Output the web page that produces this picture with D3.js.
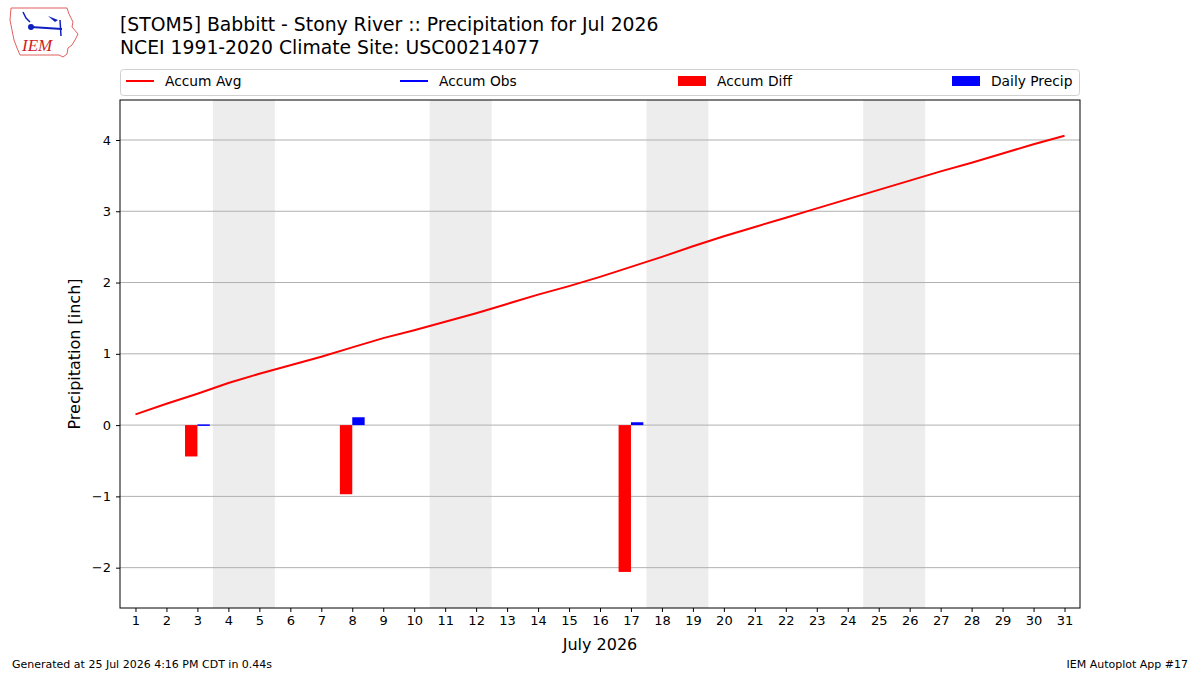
<!DOCTYPE html>
<html>
<head>
<meta charset="utf-8">
<script src="https://cdn.jsdelivr.net/npm/d3@7"></script>
<style>
  body { margin: 0; background: #fff; }
  svg { font-family: "DejaVu Sans", sans-serif; }
</style>
</head>
<body>
<div id="chart"></div>
<script>
// days of the month
var days = d3.range(1, 32);
// climatology accumulated average precip (inch)
var accumAvg = [0.15, 0.30, 0.44, 0.59, 0.72, 0.84, 0.96, 1.09, 1.22, 1.33,
    1.45, 1.57, 1.70, 1.83, 1.95, 2.08, 2.22, 2.36, 2.51, 2.65,
    2.78, 2.91, 3.04, 3.17, 3.30, 3.43, 3.56, 3.68, 3.81, 3.94, 4.06];
// days that have observations
var obsDays = [3, 8, 17];
var accumDiff = [-0.44, -0.97, -2.06];
var dailyPrecip = [0.01, 0.11, 0.04];
// weekend spans (start day, end day)
var weekends = [[4, 5], [11, 12], [18, 19], [25, 26]];
var yTicks = [-2, -1, 0, 1, 2, 3, 4];

var width = 1200, height = 675;
var svg = d3.select("#chart").append("svg")
    .attr("width", width)
    .attr("height", height);

// plot area (note: "top" is reserved on window)
var pLeft = 120, pRight = 1080, pTop = 100, pBottom = 608;

var x = d3.scaleLinear().domain([0.5, 31.5]).range([pLeft, pRight]);
var y = d3.scaleLinear().domain([-2.566, 4.561]).range([pBottom, pTop]);

// weekend shading
svg.selectAll("rect.wk").data(weekends).enter().append("rect")
    .attr("x", function(d) { return x(d[0] - 0.5); })
    .attr("y", pTop)
    .attr("width", function(d) { return x(d[1] + 0.5) - x(d[0] - 0.5); })
    .attr("height", pBottom - pTop)
    .attr("fill", "#ededed");

// grid lines
svg.selectAll("line.grid").data(yTicks).enter().append("line")
    .attr("x1", pLeft).attr("x2", pRight)
    .attr("y1", function(d) { return y(d); })
    .attr("y2", function(d) { return y(d); })
    .attr("stroke", "#b0b0b0")
    .attr("stroke-width", 1);

var barW = x(1.4) - x(1);

// accum diff bars (left of day)
svg.selectAll("rect.diff").data(obsDays).enter().append("rect")
    .attr("x", function(d) { return x(d) - barW; })
    .attr("y", function(d, i) { return y(Math.max(0, accumDiff[i])); })
    .attr("width", barW)
    .attr("height", function(d, i) { return Math.abs(y(accumDiff[i]) - y(0)); })
    .attr("fill", "red");

// daily precip bars (right of day)
svg.selectAll("rect.daily").data(obsDays).enter().append("rect")
    .attr("x", function(d) { return x(d); })
    .attr("y", function(d, i) { return y(dailyPrecip[i]); })
    .attr("width", barW)
    .attr("height", function(d, i) { return Math.max(1.5, y(0) - y(dailyPrecip[i])); })
    .attr("fill", "blue");

// accum avg line
var line = d3.line()
    .x(function(d, i) { return x(days[i]); })
    .y(function(d) { return y(d); });

svg.append("path")
    .attr("d", line(accumAvg))
    .attr("fill", "none")
    .attr("stroke", "red")
    .attr("stroke-width", 2);

// axes
var xAxis = d3.axisBottom(x).tickValues(days).tickSize(4).tickPadding(4);
var yAxis = d3.axisLeft(y).tickValues(yTicks).tickSize(4).tickPadding(5)
    .tickFormat(function(d) { return d < 0 ? "\u2212" + Math.abs(d) : d; });

var gx = svg.append("g")
    .attr("transform", "translate(0," + pBottom + ")")
    .call(xAxis);
var gy = svg.append("g")
    .attr("transform", "translate(" + pLeft + ",0)")
    .call(yAxis);
[gx, gy].forEach(function(g) {
    g.select(".domain").remove();
    g.selectAll("text").attr("font-size", 13).attr("font-family", "DejaVu Sans").attr("fill", "#000");
    g.selectAll("line").attr("stroke", "#000");
});

// frame
svg.append("rect")
    .attr("x", pLeft).attr("y", pTop)
    .attr("width", pRight - pLeft).attr("height", pBottom - pTop)
    .attr("fill", "none").attr("stroke", "#000").attr("stroke-width", 1);

// axis labels
svg.append("text")
    .attr("x", (pLeft + pRight) / 2).attr("y", 650)
    .attr("text-anchor", "middle")
    .attr("font-size", 16)
    .text("July 2026");

svg.append("text")
    .attr("transform", "translate(80," + ((pTop + pBottom) / 2) + ") rotate(-90)")
    .attr("text-anchor", "middle")
    .attr("font-size", 16)
    .text("Precipitation [inch]");

// titles
svg.append("text").attr("x", 120).attr("y", 31).attr("font-size", 18.8)
    .text("[STOM5] Babbitt - Stony River :: Precipitation for Jul 2026");
svg.append("text").attr("x", 120).attr("y", 54).attr("font-size", 18.8)
    .text("NCEI 1991-2020 Climate Site: USC00214077");

// legend
svg.append("rect")
    .attr("x", 120.5).attr("y", 69.5).attr("width", 959).attr("height", 26)
    .attr("rx", 3)
    .attr("fill", "#fff").attr("stroke", "#d0d0d0");

var legendItems = [
    {name: "Accum Avg", type: "line", color: "red", x: 126},
    {name: "Accum Obs", type: "line", color: "blue", x: 400},
    {name: "Accum Diff", type: "rect", color: "red", x: 678},
    {name: "Daily Precip", type: "rect", color: "blue", x: 952}
];
legendItems.forEach(function(d) {
    if (d.type === "line") {
        svg.append("line")
            .attr("x1", d.x).attr("x2", d.x + 28)
            .attr("y1", 81).attr("y2", 81)
            .attr("stroke", d.color).attr("stroke-width", 2);
    } else {
        svg.append("rect")
            .attr("x", d.x).attr("y", 76)
            .attr("width", 28).attr("height", 10)
            .attr("fill", d.color);
    }
    svg.append("text")
        .attr("x", d.x + 39).attr("y", 86)
        .attr("font-size", 13.8)
        .text(d.name);
});

// footer
svg.append("text").attr("x", 12).attr("y", 668).attr("font-size", 11)
    .text("Generated at 25 Jul 2026 4:16 PM CDT in 0.44s");
svg.append("text").attr("x", 1188).attr("y", 668).attr("font-size", 11)
    .attr("text-anchor", "end")
    .text("IEM Autoplot App #17");

// rough IEM logo
var logo = svg.append("g");
logo.append("path")
    .attr("d", "M11,8 L67,8 L69,14 L73,22 L72,27 L78,34 L75,40 L72,45 L68,48 L67,54 L63,57 L59,55 L20,55 L17,48 L14,40 L12,30 L10,20 Z")
    .attr("fill", "none").attr("stroke", "#e06060").attr("stroke-width", 1);
logo.append("text").attr("x", 22).attr("y", 51)
    .attr("font-family", "Liberation Serif").attr("font-style", "italic")
    .attr("font-size", 17).attr("fill", "#d02020").text("IEM");
logo.append("line").attr("x1", 31).attr("y1", 27).attr("x2", 62).attr("y2", 29)
    .attr("stroke", "#1020c0").attr("stroke-width", 2);
logo.append("circle").attr("cx", 31).attr("cy", 27).attr("r", 3).attr("fill", "#1020c0");
logo.append("path").attr("d", "M48,16 L58,20 L55,22 Z").attr("fill", "#1020c0");
logo.append("path").attr("d", "M23,12 L26,18 L30,22").attr("fill", "none")
    .attr("stroke", "#1020c0").attr("stroke-width", 1.5);
logo.append("line").attr("x1", 60).attr("y1", 20).attr("x2", 61).attr("y2", 36)
    .attr("stroke", "#1020c0").attr("stroke-width", 1.5);
</script>
</body>
</html>
